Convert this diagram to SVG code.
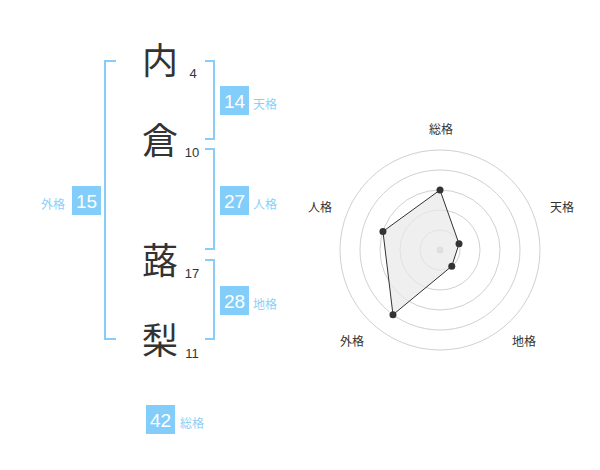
<svg xmlns="http://www.w3.org/2000/svg" width="600" height="470" viewBox="0 0 600 470">
<style>
.ch{font-family:"Noto Sans CJK JP","Noto Sans CJK SC",sans-serif;font-size:36px;fill:#333;text-anchor:middle}
.num{font-family:"Liberation Sans",Arial,sans-serif;font-size:13px;fill:#333;text-anchor:middle}
.box{fill:#82cdfa}
.bt{font-family:"Liberation Sans",Arial,sans-serif;font-size:19px;fill:#fff;text-anchor:middle}
.lb{font-family:"Noto Sans CJK JP","Noto Sans CJK SC",sans-serif;font-size:12px;fill:#8ccff8}
.br{fill:none;stroke:#88cdf8;stroke-width:2}
.ring{fill:none;stroke:#d0d0d0;stroke-width:1}
.rl{font-family:"Noto Sans CJK JP","Noto Sans CJK SC",sans-serif;font-size:12px;fill:#333;text-anchor:middle}
</style>
<rect width="600" height="470" fill="#fff"/>
<g id="connectors">
<path class="br" d="M116,61 H105 V339 H116"/>
<path class="br" d="M205,61 H214 V139 H205"/>
<path class="br" d="M205,149 H214 V249 H205"/>
<path class="br" d="M205,260 H214 V339 H205"/>
</g>
<g id="char1"><text class="ch" x="160" y="74">内</text><text class="num" x="193" y="78">4</text></g>
<g id="char2"><text class="ch" x="160" y="154">倉</text><text class="num" x="192" y="157">10</text></g>
<g id="char3"><text class="ch" x="160" y="274">蕗</text><text class="num" x="192" y="278">17</text></g>
<g id="char4"><text class="ch" x="160" y="354">梨</text><text class="num" x="192" y="358">11</text></g>
<g id="tenkaku"><rect class="box" x="220" y="86" width="29" height="29"/><text class="bt" x="234.5" y="107.5">14</text><text class="lb" x="253" y="108.5">天格</text></g>
<g id="jinkaku"><rect class="box" x="220" y="186" width="29" height="29"/><text class="bt" x="234.5" y="207.5">27</text><text class="lb" x="253" y="208.5">人格</text></g>
<g id="chikaku"><rect class="box" x="220" y="286" width="29" height="29"/><text class="bt" x="234.5" y="307.5">28</text><text class="lb" x="253" y="308.5">地格</text></g>
<g id="gaikaku"><rect class="box" x="72" y="186" width="29" height="29"/><text class="bt" x="86.5" y="207.5">15</text><text class="lb" x="41" y="208.5">外格</text></g>
<g id="soukaku"><rect class="box" x="146" y="405" width="29" height="29"/><text class="bt" x="160.5" y="426.5">42</text><text class="lb" x="180" y="427.5">総格</text></g>
<g id="radar">
<circle class="ring" cx="440" cy="250" r="20"/>
<circle class="ring" cx="440" cy="250" r="40"/>
<circle class="ring" cx="440" cy="250" r="60"/>
<circle class="ring" cx="440" cy="250" r="80"/>
<circle class="ring" cx="440" cy="250" r="100"/>
<circle cx="440" cy="250" r="3.5" fill="#c8c8c8"/>
<polygon points="440,190 459.02,243.82 451.76,266.18 392.98,314.72 382.94,231.46" fill="#e8e8e8" fill-opacity="0.7" stroke="#333" stroke-width="1"/>
<g fill="#333">
<circle cx="440" cy="190" r="3.5"/>
<circle cx="459.02" cy="243.82" r="3.5"/>
<circle cx="451.76" cy="266.18" r="3.5"/>
<circle cx="392.98" cy="314.72" r="3.5"/>
<circle cx="382.94" cy="231.46" r="3.5"/>
</g>
<text class="rl" x="441" y="134">総格</text>
<text class="rl" x="562" y="212">天格</text>
<text class="rl" x="320" y="212">人格</text>
<text class="rl" x="352" y="346">外格</text>
<text class="rl" x="524" y="346">地格</text>
</g>
</svg>
